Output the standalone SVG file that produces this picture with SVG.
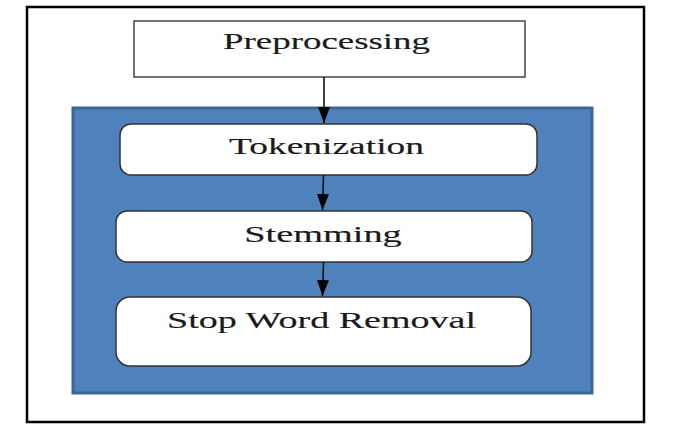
<svg xmlns="http://www.w3.org/2000/svg" width="680" height="433" viewBox="0 0 680 433">
<style>
.lbl{font-family:"Liberation Serif","Times New Roman",serif;font-size:24px;fill:#1a1a1a;stroke:#1a1a1a;stroke-width:0.15;text-anchor:middle}
.box{fill:#fff;stroke:#333;stroke-width:1.5}
.con{stroke:#111;stroke-width:1.6;fill:none}
</style>
<defs>
<marker id="ah" markerWidth="16" markerHeight="12" refX="16" refY="6" orient="auto" markerUnits="userSpaceOnUse">
<path d="M0,0 L16,6 L0,12 Z" fill="#000"/>
</marker>
</defs>
<rect width="680" height="433" fill="#fff"/>
<rect id="frame" x="27" y="7" width="617" height="415" fill="#fff" stroke="#000" stroke-width="2.5"/>
<g id="preprocessing">
<rect x="134" y="21" width="391" height="56" fill="#fff" stroke="#444" stroke-width="1.5"/>
<text class="lbl" transform="translate(326.5,49) scale(1.5,1)" textLength="138" lengthAdjust="spacingAndGlyphs">Preprocessing</text>
</g>
<g id="container">
<rect x="73" y="108" width="519" height="285" fill="#4F81BD" stroke="#3D6595" stroke-width="3"/>
</g>
<g id="tokenization">
<rect class="box" x="120" y="124" width="417" height="51" rx="11"/>
<text class="lbl" transform="translate(326.5,154) scale(1.5,1)" textLength="130" lengthAdjust="spacingAndGlyphs">Tokenization</text>
</g>
<g id="stemming">
<rect class="box" x="116" y="211" width="416" height="51" rx="11"/>
<text class="lbl" transform="translate(323,242) scale(1.5,1)" textLength="105" lengthAdjust="spacingAndGlyphs">Stemming</text>
</g>
<g id="stopword">
<rect class="box" x="116" y="297" width="415" height="69" rx="14"/>
<text class="lbl" transform="translate(321.5,328) scale(1.5,1)" textLength="206" lengthAdjust="spacingAndGlyphs">Stop Word Removal</text>
</g>
<g id="connectors">
<line class="con" x1="324" y1="77" x2="324" y2="123" marker-end="url(#ah)"/>
<line class="con" x1="323.5" y1="175" x2="322.5" y2="210" marker-end="url(#ah)"/>
<line class="con" x1="323.5" y1="262" x2="322.5" y2="296" marker-end="url(#ah)"/>
</g>
</svg>
